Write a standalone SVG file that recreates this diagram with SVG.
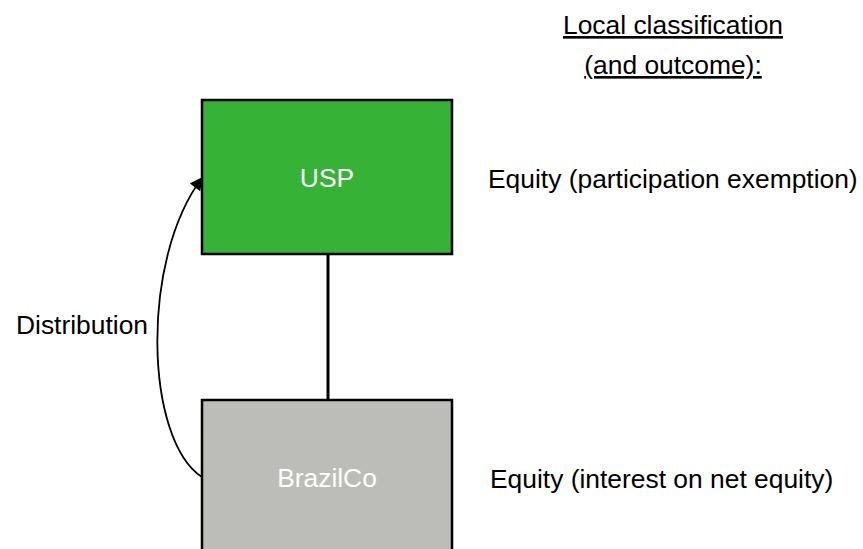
<svg xmlns="http://www.w3.org/2000/svg" width="863" height="549" viewBox="0 0 863 549">
<style>
text{font-family:"Liberation Sans",Arial,sans-serif;font-size:26.4px;fill:#000}
.lbl{fill:#fff;text-anchor:middle}
.box{stroke:#000;stroke-width:2.5}
.conn{fill:none;stroke:#000}
</style>
<defs>
<marker id="ah" viewBox="0 0 10 10" refX="9" refY="5" markerWidth="15" markerHeight="13" markerUnits="userSpaceOnUse" orient="auto">
<path d="M0,0L10,5L0,10z" fill="#000"/>
</marker>
</defs>
<rect width="863" height="549" fill="#fff"/>
<g id="heading">
<text x="673" y="34" text-anchor="middle" text-decoration="underline">Local classification</text>
<text x="673" y="74" text-anchor="middle" text-decoration="underline">(and outcome):</text>
</g>
<g id="connectors">
<line class="conn" x1="328" y1="254" x2="328" y2="400" stroke-width="3"/>
<path class="conn" stroke-width="1.8" d="M202,477 C145,440 140,260 202,178" marker-end="url(#ah)"/>
</g>
<g id="usp">
<rect class="box" x="202" y="100" width="250" height="154" fill="#36b237"/>
<text class="lbl" x="327" y="187">USP</text>
</g>
<g id="brazilco">
<rect class="box" x="202" y="400" width="250" height="152" fill="#bcbdb8"/>
<text class="lbl" x="327" y="487">BrazilCo</text>
</g>
<g id="labels">
<text x="488" y="188">Equity (participation exemption)</text>
<text x="490" y="488">Equity (interest on net equity)</text>
<text x="16" y="334">Distribution</text>
</g>
</svg>
